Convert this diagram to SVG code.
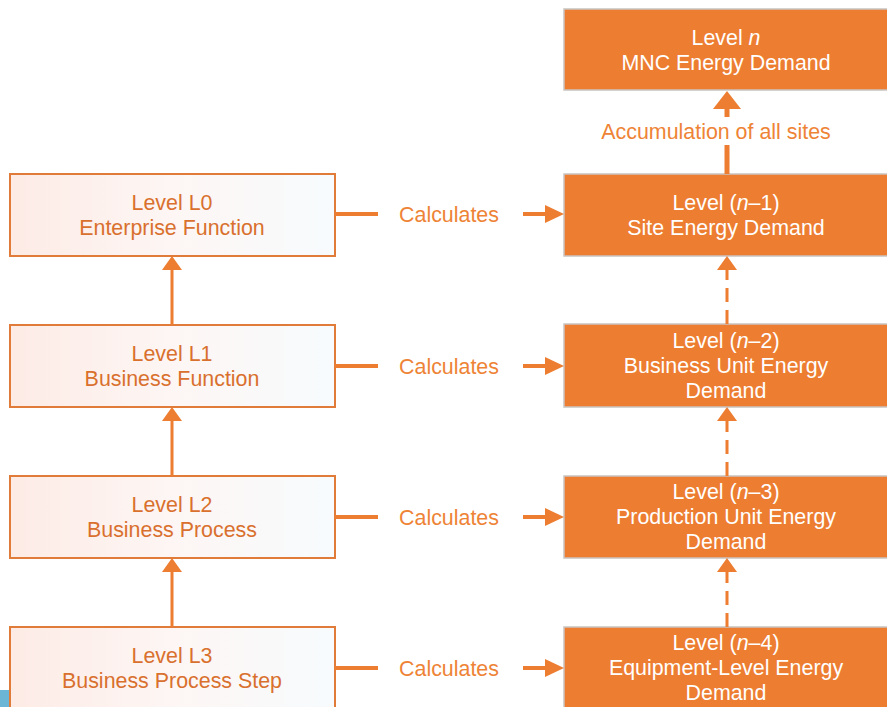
<svg xmlns="http://www.w3.org/2000/svg" width="887" height="707" viewBox="0 0 887 707">
  <defs>
    <linearGradient id="paleFill" x1="0" y1="0" x2="1" y2="0">
      <stop offset="0" stop-color="#fdebe5"/>
      <stop offset="0.5" stop-color="#fdf6f4"/>
      <stop offset="1" stop-color="#f7fbfd"/>
    </linearGradient>
    <style>
      .func rect { fill: url(#paleFill); stroke: #e07b3a; stroke-width: 2; }
      .func text { fill: #d9702e; font-family: "Liberation Sans", Arial, sans-serif; font-size: 21.4px; text-anchor: middle; }
      .dem rect { fill: #ed7d31; stroke: #c9c4c0; stroke-width: 1.5; }
      .dem text { fill: #ffffff; font-family: "Liberation Sans", Arial, sans-serif; font-size: 21.4px; text-anchor: middle; }
      .lbl { fill: #ee8336; font-family: "Liberation Sans", Arial, sans-serif; font-size: 21.4px; text-anchor: middle; }
      .ln { stroke: #ed7d31; fill: none; }
      .head { fill: #ed7d31; }
    </style>
  </defs>

  <!-- blue corner strip -->
  <rect x="0" y="690" width="10" height="17" fill="#6bb5d6"/>

  <!-- left column: process hierarchy -->
  <g id="L0" class="func">
    <rect x="10" y="174" width="325" height="82"/>
    <text x="172" y="210">Level L0</text>
    <text x="172" y="235">Enterprise Function</text>
  </g>
  <g id="L1" class="func">
    <rect x="10" y="325" width="325" height="82"/>
    <text x="172" y="361">Level L1</text>
    <text x="172" y="386">Business Function</text>
  </g>
  <g id="L2" class="func">
    <rect x="10" y="476" width="325" height="82"/>
    <text x="172" y="512">Level L2</text>
    <text x="172" y="537">Business Process</text>
  </g>
  <g id="L3" class="func">
    <rect x="10" y="627" width="325" height="90"/>
    <text x="172" y="663">Level L3</text>
    <text x="172" y="688">Business Process Step</text>
  </g>

  <!-- right column: energy demand levels -->
  <g id="Ln" class="dem">
    <rect x="564" y="9" width="330" height="81"/>
    <text x="726" y="45">Level <tspan font-style="italic">n</tspan></text>
    <text x="726" y="70">MNC Energy Demand</text>
  </g>
  <g id="Ln1" class="dem">
    <rect x="564" y="174" width="330" height="82"/>
    <text x="726" y="210">Level (<tspan font-style="italic">n</tspan>–1)</text>
    <text x="726" y="235">Site Energy Demand</text>
  </g>
  <g id="Ln2" class="dem">
    <rect x="564" y="324" width="330" height="83"/>
    <text x="726" y="348">Level (<tspan font-style="italic">n</tspan>–2)</text>
    <text x="726" y="373">Business Unit Energy</text>
    <text x="726" y="398">Demand</text>
  </g>
  <g id="Ln3" class="dem">
    <rect x="564" y="476" width="330" height="82"/>
    <text x="726" y="499">Level (<tspan font-style="italic">n</tspan>–3)</text>
    <text x="726" y="524">Production Unit Energy</text>
    <text x="726" y="549">Demand</text>
  </g>
  <g id="Ln4" class="dem">
    <rect x="564" y="627" width="330" height="90"/>
    <text x="726" y="650">Level (<tspan font-style="italic">n</tspan>–4)</text>
    <text x="726" y="675">Equipment-Level Energy</text>
    <text x="726" y="700">Demand</text>
  </g>

  <!-- connectors -->
  <g id="connectors">
    <!-- left upward arrows -->
    <line class="ln" x1="172" y1="325" x2="172" y2="269" stroke-width="3"/>
    <path class="head" d="M172,256 L182,270 L162,270 Z"/>
    <line class="ln" x1="172" y1="476" x2="172" y2="420" stroke-width="3"/>
    <path class="head" d="M172,407 L182,421 L162,421 Z"/>
    <line class="ln" x1="172" y1="627" x2="172" y2="571" stroke-width="3"/>
    <path class="head" d="M172,558 L182,572 L162,572 Z"/>

    <!-- right dashed upward arrows -->
    <line class="ln" x1="727" y1="324" x2="727" y2="270" stroke-width="3" stroke-dasharray="14 8"/>
    <path class="head" d="M727,256 L737,270 L717,270 Z"/>
    <line class="ln" x1="727" y1="476" x2="727" y2="421" stroke-width="3" stroke-dasharray="14 8"/>
    <path class="head" d="M727,407 L737,421 L717,421 Z"/>
    <line class="ln" x1="727" y1="627" x2="727" y2="572" stroke-width="3" stroke-dasharray="14 8"/>
    <path class="head" d="M727,558 L737,572 L717,572 Z"/>

    <!-- accumulation arrow -->
    <line class="ln" x1="727" y1="174" x2="727" y2="106" stroke-width="5"/>
    <path class="head" d="M727,91 L741,109 L713,109 Z"/>
    <rect x="598" y="117" width="238" height="28" fill="#ffffff"/>
    <text class="lbl" x="716" y="139">Accumulation of all sites</text>

    <!-- calculates links -->
    <g id="calc0">
      <line class="ln" x1="335" y1="214" x2="378" y2="214" stroke-width="4"/>
      <text class="lbl" x="449" y="222">Calculates</text>
      <line class="ln" x1="523" y1="214" x2="548" y2="214" stroke-width="4"/>
      <path class="head" d="M564,214 L545,205 L545,223 Z"/>
    </g>
    <g id="calc1">
      <line class="ln" x1="335" y1="366" x2="378" y2="366" stroke-width="4"/>
      <text class="lbl" x="449" y="374">Calculates</text>
      <line class="ln" x1="523" y1="366" x2="548" y2="366" stroke-width="4"/>
      <path class="head" d="M564,366 L545,357 L545,375 Z"/>
    </g>
    <g id="calc2">
      <line class="ln" x1="335" y1="517" x2="378" y2="517" stroke-width="4"/>
      <text class="lbl" x="449" y="525">Calculates</text>
      <line class="ln" x1="523" y1="517" x2="548" y2="517" stroke-width="4"/>
      <path class="head" d="M564,517 L545,508 L545,526 Z"/>
    </g>
    <g id="calc3">
      <line class="ln" x1="335" y1="668" x2="378" y2="668" stroke-width="4"/>
      <text class="lbl" x="449" y="676">Calculates</text>
      <line class="ln" x1="523" y1="668" x2="548" y2="668" stroke-width="4"/>
      <path class="head" d="M564,668 L545,659 L545,677 Z"/>
    </g>
  </g>
</svg>
